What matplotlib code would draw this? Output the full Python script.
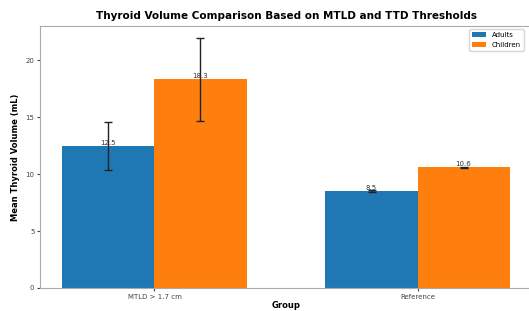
import numpy as np
import matplotlib
matplotlib.use("Agg")
import matplotlib.pyplot as plt

groups = ["MTLD > 1.7 cm", "Reference"]
adults = [12.5, 8.5]
children = [18.3, 10.6]
adults_err = [2.1, 0.1]
children_err = [3.6, 0.05]

fig = plt.figure(figsize=(5.29, 3.11), dpi=100)
ax = fig.add_axes([40 / 529, 1 - 288 / 311, 492 / 529, 262 / 311])

x = np.arange(len(groups))
w = 0.35
ekw = dict(ecolor="#222222", elinewidth=1, capthick=1)
b1 = ax.bar(x - w / 2, adults, w, yerr=adults_err, capsize=3, label="Adults",
            color="#1f77b4", error_kw=ekw)
b2 = ax.bar(x + w / 2, children, w, yerr=children_err, capsize=3, label="Children",
            color="#ff7f0e", error_kw=ekw)

for bars in (b1, b2):
    for r in bars:
        h = r.get_height()
        ax.text(r.get_x() + r.get_width() / 2, h, f"{h:.1f}", ha="center", va="bottom",
                fontsize=5, color="#333333")

ax.set_xticks(x)
ax.set_xticklabels(groups)
ax.tick_params(labelsize=5, length=2, pad=2, colors="#444444")
ax.set_xlabel("Group", fontsize=6, fontweight="bold", labelpad=1)
ax.set_ylabel("Mean Thyroid Volume (mL)", fontsize=6, fontweight="bold")
ax.set_title("Thyroid Volume Comparison Based on MTLD and TTD Thresholds",
             fontsize=7.5, fontweight="bold", pad=5)
for s in ax.spines.values():
    s.set_color("#aaaaaa")
ax.spines["right"].set_visible(False)
ax.legend(fontsize=5, loc="upper right", bbox_to_anchor=(0.99, 1.0))

fig.savefig("out.png", dpi=100)
